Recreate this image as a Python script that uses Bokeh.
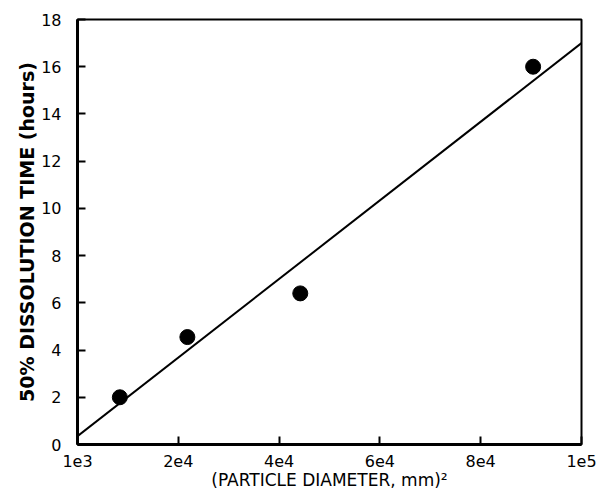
from bokeh.plotting import figure
from bokeh.models import Range1d, FixedTicker
from bokeh.embed import file_html
from bokeh.resources import INLINE

# Measured points: squared particle diameter vs. time to 50% dissolution
particle_d2 = [8400, 21800, 44200, 90400]
dissolution_hours = [2.0, 4.55, 6.4, 16.0]

# Straight-line fit through the points, given at the ends of the axis
fit_d2 = [0, 100000]
fit_hours = [0.35, 17.0]

x_ticks = [0, 20000, 40000, 60000, 80000, 100000]
x_tick_labels = ["1e3", "2e4", "4e4", "6e4", "8e4", "1e5"]
y_ticks = [0, 2, 4, 6, 8, 10, 12, 14, 16, 18]

FONT = "DejaVu Sans"

p = figure(
    width=601, height=493,
    x_range=Range1d(0, 100000), y_range=Range1d(0, 18),
    output_backend="svg", toolbar_location=None,
    min_border_left=77, min_border_right=20,
    min_border_top=19, min_border_bottom=49,
)

p.xgrid.visible = False
p.ygrid.visible = False
p.outline_line_color = "black"
p.outline_line_width = 2
p.background_fill_color = "white"
p.border_fill_color = "white"

p.xaxis.ticker = FixedTicker(ticks=x_ticks)
p.xaxis.major_label_overrides = {t: l for t, l in zip(x_ticks, x_tick_labels)}
p.yaxis.ticker = FixedTicker(ticks=y_ticks)

for ax in (p.xaxis, p.yaxis):
    ax.axis_line_width = 3
    ax.axis_line_color = "black"
    ax.major_tick_in = 8
    ax.major_tick_out = 0
    ax.major_tick_line_width = 2
    ax.minor_tick_line_color = None
    ax.major_label_text_font = FONT
    ax.major_label_text_font_size = "16px"
    ax.major_label_text_color = "black"
    ax.axis_label_text_font = FONT
    ax.axis_label_text_color = "black"

p.xaxis.axis_label = "(PARTICLE DIAMETER, mm)²"
p.xaxis.axis_label_text_font_style = "normal"
p.xaxis.axis_label_text_font_size = "17px"
p.xaxis.major_label_standoff = 10
p.xaxis.axis_label_standoff = 0

p.yaxis.axis_label = "50% DISSOLUTION TIME (hours)"
p.yaxis.axis_label_text_font_style = "bold"
p.yaxis.axis_label_text_font_size = "19px"
p.yaxis.major_label_standoff = 16
p.yaxis.axis_label_standoff = 0

p.line(fit_d2, fit_hours, line_color="black", line_width=2)
p.scatter(particle_d2, dissolution_hours, size=15, marker="circle",
          fill_color="black", line_color="black")

open("out.html", "w").write(file_html(p, INLINE))
